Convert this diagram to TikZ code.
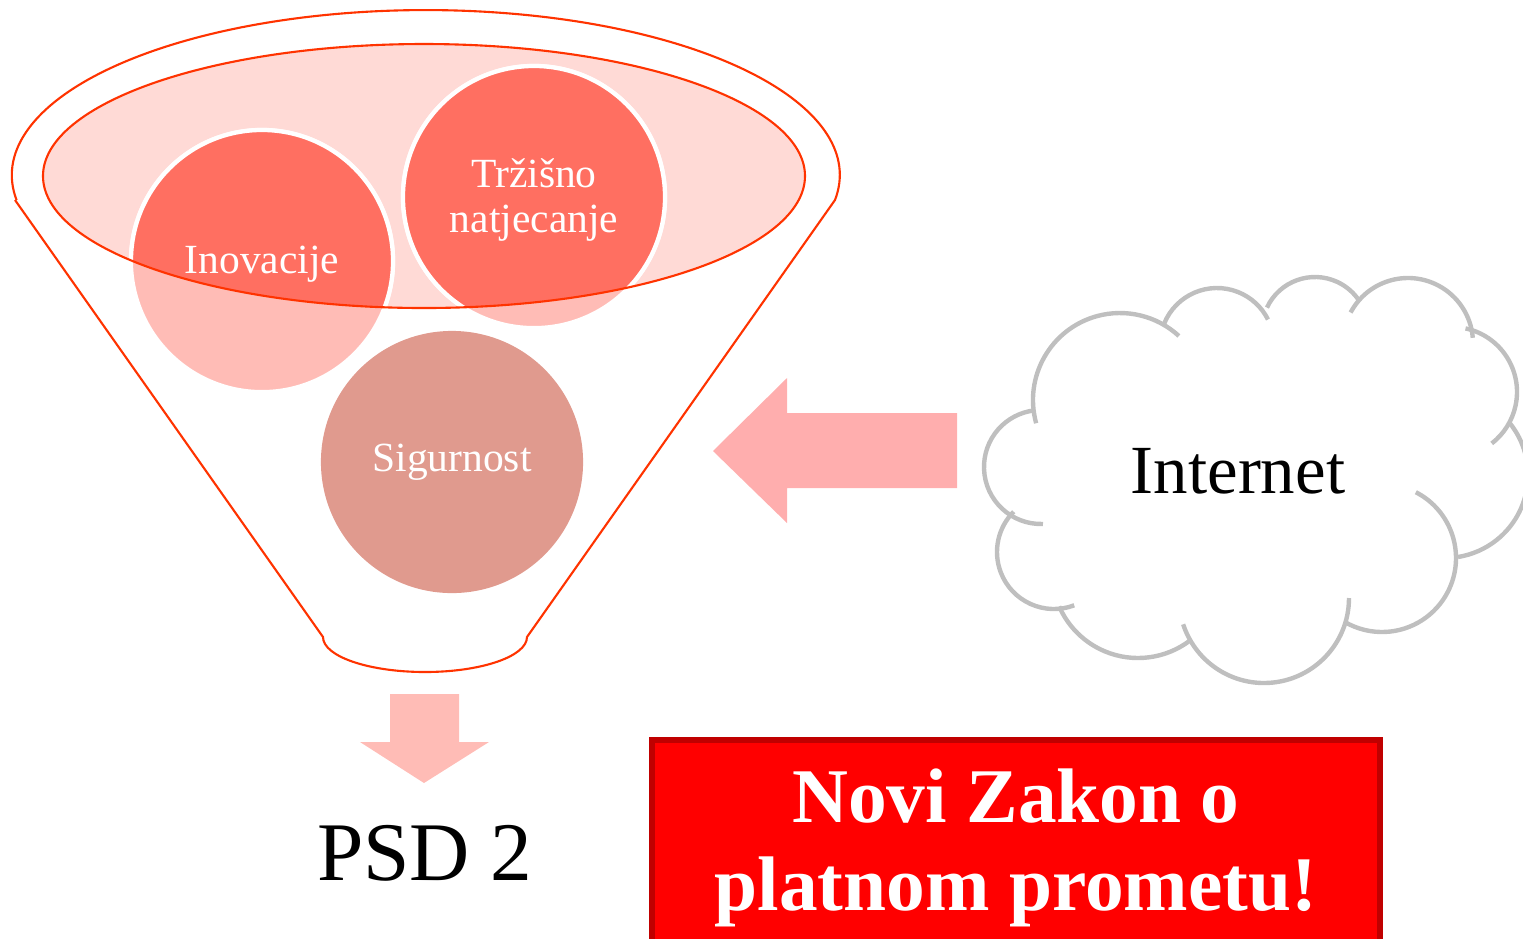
\documentclass[tikz,border=0pt]{standalone}
\usepackage{fontspec}
\setmainfont{Liberation Serif}

\definecolor{funnelline}{HTML}{FF3300}
\definecolor{bowlfill}{HTML}{FFDAD6}
\definecolor{balldark}{HTML}{FF6F61}
\definecolor{balllight}{HTML}{FFBCB6}
\definecolor{ballsafe}{HTML}{E09A8E}
\definecolor{arrowpink}{HTML}{FFAEAE}
\definecolor{cloudgray}{HTML}{BFBFBF}
\definecolor{boxred}{HTML}{FF0000}
\definecolor{boxedge}{HTML}{C00000}

\begin{document}
\begin{tikzpicture}[x=0.01cm, y=-0.01cm,
  ball/.style={circle, minimum size=2.62cm, inner sep=0pt, text=white, align=center, font=\fontsize{11.8}{12.8}\selectfont},
  blockarrow/.style={fill=arrowpink},
  puff/.style={draw=cloudgray, line width=1.25pt}]
\useasboundingbox (0,0) rectangle (1523,938);

% funnel
\draw[funnelline, line width=0.6pt] (15,200) -- (323,637) arc[start angle=180, end angle=0, x radius=102, y radius=35] -- (835,200) arc[start angle=8.7, end angle=-188.7, x radius=414, y radius=165];
\fill[bowlfill] (424,176) ellipse[x radius=381, y radius=132];

% balls
\node[ball, fill=balllight, draw=white, line width=1.2pt] (inov) at (262,261) {};
\node[ball, fill=balllight, draw=white, line width=1.2pt] (trz) at (534,197) {};
\node[ball, fill=ballsafe] (sig) at (452,462) {Sigurnost};
\begin{scope}
  \clip (424,176) ellipse[x radius=381, y radius=132];
  \fill[balldark] (inov) circle[radius=130];
  \fill[balldark] (trz) circle[radius=130];
  \draw[white, line width=1.2pt] (inov) circle[radius=131];
  \draw[white, line width=1.2pt] (trz) circle[radius=131];
\end{scope}
\node[ball, yshift=-0.03cm] at (inov) {Inovacije};
\node[ball, yshift=-0.03cm] at (trz) {Tržišno\\natjecanje};
\draw[funnelline, line width=0.6pt] (424,176) ellipse[x radius=381, y radius=132];

% arrows
\fill[blockarrow] (957,413) -- (787,413) -- (787,378) -- (713,451) -- (787,523) -- (787,488) -- (957,488) -- cycle;
\fill[blockarrow, fill=balllight] (390,694) -- (459,694) -- (459,742) -- (489,742) -- (424,783) -- (360,742) -- (390,742) -- cycle;

% cloud, one arc per puff
\foreach \cx/\cy/\r/\a/\b in {1120/400/87/164.5/312.6, 1217/345/57/201.8/333.4, 1315/330/53/205/327.4,
  1408/343/65/208/355.4, 1452/392/65/282/412.3, 1445/475/83/321.7/441, 1382/558/74/297.2/480.3,
  1264/598/85/0/162, 1138/572/86/52.7/156.4, 1054/552/57/69.2/225, 1041/467/57/88/264}
  \draw[puff] (\cx,\cy) ++(\a:\r) arc[start angle=\a, end angle=\b, radius=\r];
\node[anchor=base, font=\fontsize{19.6}{22}\selectfont] (net) at (1238,493) {Internet};

\node[anchor=base, font=\fontsize{23.7}{26}\selectfont] (psd) at (425,880) {PSD 2};

\draw[boxedge, line width=1.5pt, fill=boxred] (652,740) rectangle (1380,960);
\node[text=white, align=center, font=\bfseries\fontsize{22}{25}\selectfont] (zakon) at (1016,848) {Novi Zakon o\\platnom prometu!};
\end{tikzpicture}
\end{document}
